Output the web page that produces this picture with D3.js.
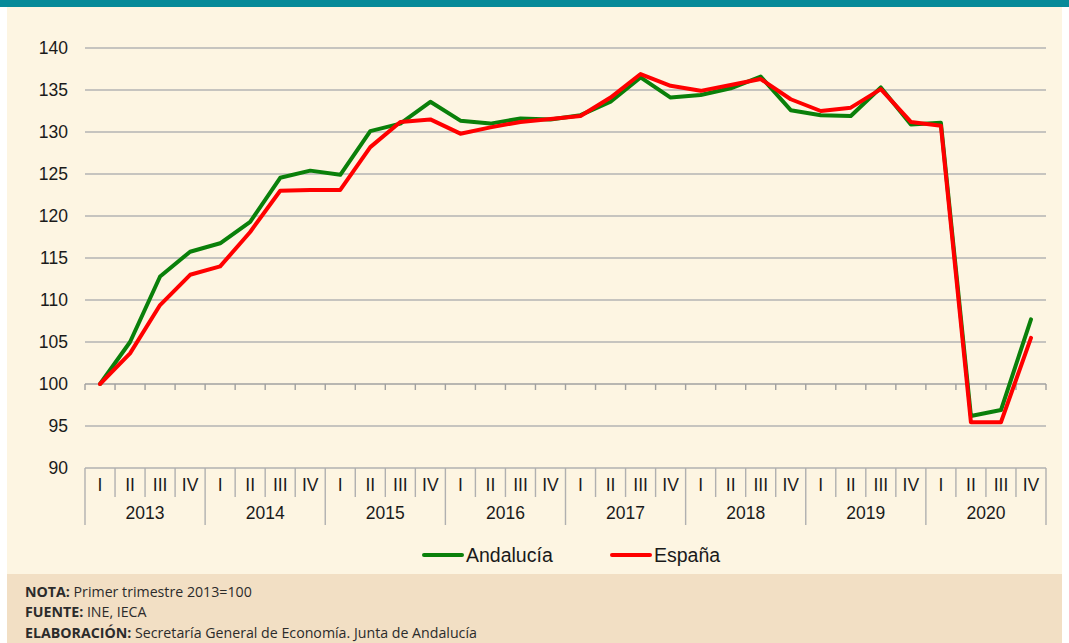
<!DOCTYPE html>
<html><head><meta charset="utf-8">
<script src="https://cdn.jsdelivr.net/npm/d3@7"></script>
<style>body{margin:0;background:#fff}svg{display:block}</style>
</head><body>
<svg id="c" width="1069" height="643"></svg>
<script>
const years = ["2013","2014","2015","2016","2017","2018","2019","2020"];
const quarters = ["I","II","III","IV"];
const andalucia = [100,105.0,112.8,115.75,116.75,119.3,124.55,125.4,124.9,130.1,131.0,133.6,131.35,131.0,131.6,131.5,132.0,133.6,136.5,134.1,134.4,135.2,136.6,132.6,132.0,131.9,135.3,130.9,131.1,96.2,96.9,107.7];
const espana = [100,103.65,109.4,113.0,114.0,118.1,123.0,123.1,123.1,128.2,131.2,131.5,129.8,130.55,131.2,131.55,131.9,134.1,136.9,135.5,134.9,135.6,136.3,133.9,132.5,132.9,135.1,131.2,130.75,95.45,95.45,105.5];
const yTicks = [90,95,100,105,110,115,120,125,130,135,140];
const seriesNames = ["Andalucía","España"];
const seriesColors = ["#0a800a","#ff0000"];
const notes = [["NOTA:"," Primer trimestre 2013=100"],["FUENTE:"," INE, IECA"],["ELABORACIÓN:"," Secretaría General de Economía. Junta de Andalucía"]];

const svg = d3.select("#c");
const W=1069,H=643;
svg.append("rect").attr("x",0).attr("y",0).attr("width",W).attr("height",H).attr("fill","#fff");
svg.append("rect").attr("x",7).attr("y",0).attr("width",W-14).attr("height",574).attr("fill","#fdf5e2");
svg.append("rect").attr("x",7).attr("y",574).attr("width",W-14).attr("height",H-574).attr("fill","#f2dfc4");
svg.append("rect").attr("x",0).attr("y",0).attr("width",W).attr("height",7).attr("fill","#078a99");

const cats = [];
years.forEach(y=>quarters.forEach(q=>cats.push(y+"-"+q)));
const x = d3.scaleBand().domain(cats).range([85,1046]).paddingInner(0).paddingOuter(0);
const y = d3.scaleLinear().domain([90,140]).range([468,48]);
const font = "'Liberation Sans', Arial, sans-serif";

const g = svg.append("g");
g.selectAll("line.grid").data(yTicks.filter(v=>v!==100 && v!==90)).join("line")
  .attr("x1",85).attr("x2",1046).attr("y1",d=>y(d)).attr("y2",d=>y(d))
  .attr("stroke","#b3b3b3").attr("stroke-width",1.4);
g.selectAll("text.yl").data(yTicks).join("text")
  .attr("x",68).attr("y",d=>y(d)).attr("dy","0.35em").attr("text-anchor","end")
  .attr("font-family",font).attr("font-size",17.5).attr("fill","#1a1a1a").text(d=>d);

const axG = svg.append("g").attr("transform",`translate(0,${y(100)})`);
axG.append("line").attr("x1",85).attr("x2",1046).attr("y1",0).attr("y2",0).attr("stroke","#a0a0a0").attr("stroke-width",1.6);
const bounds = cats.map(c=>x(c)).concat([1046]);
axG.selectAll("line.t").data(bounds).join("line")
  .attr("x1",d=>d).attr("x2",d=>d).attr("y1",0).attr("y2",6).attr("stroke","#a0a0a0").attr("stroke-width",1.4);

const tb = svg.append("g");
tb.append("line").attr("x1",85).attr("x2",1046).attr("y1",468).attr("y2",468).attr("stroke","#b0b0b0").attr("stroke-width",1.4);
tb.selectAll("line.q").data(bounds).join("line")
  .attr("x1",d=>d).attr("x2",d=>d).attr("y1",468)
  .attr("y2",(d,i)=> i%4===0 ? 525 : 497)
  .attr("stroke","#b0b0b0").attr("stroke-width",1.4);
tb.selectAll("text.q").data(cats).join("text")
  .attr("x",d=>x(d)+x.bandwidth()/2).attr("y",485).attr("dy","0.35em").attr("text-anchor","middle")
  .attr("font-family",font).attr("font-size",17.5).attr("fill","#1a1a1a").text(d=>d.split("-")[1]);
tb.selectAll("text.yr").data(years).join("text")
  .attr("x",d=>(x(d+"-I")+x(d+"-IV")+x.bandwidth())/2).attr("y",513).attr("dy","0.35em").attr("text-anchor","middle")
  .attr("font-family",font).attr("font-size",17.5).attr("fill","#1a1a1a").text(d=>d);

const line = d3.line().x((d,i)=>x(cats[i])+x.bandwidth()/2).y(d=>y(d));
[andalucia,espana].forEach((s,k)=>{
  svg.append("path").datum(s).attr("d",line).attr("fill","none")
    .attr("stroke",seriesColors[k]).attr("stroke-width",4).attr("stroke-linejoin","round").attr("stroke-linecap","round");
});

const lg = svg.append("g");
const lx = [424,612];
seriesNames.forEach((n,k)=>{
  lg.append("line").attr("x1",lx[k]).attr("x2",lx[k]+38).attr("y1",555).attr("y2",555)
    .attr("stroke",seriesColors[k]).attr("stroke-width",4).attr("stroke-linecap","round");
  lg.append("text").attr("x",lx[k]+42).attr("y",555).attr("dy","0.35em")
    .attr("font-family",font).attr("font-size",19.5).attr("fill","#1a1a1a").text(n);
});

const nf = "'Open Sans', sans-serif";
notes.forEach((n,i)=>{
  const t = svg.append("text").attr("x",25).attr("y",597+i*20.3).attr("font-family",nf).attr("font-size",14.2).attr("fill","#2b2b2b");
  t.append("tspan").attr("font-weight","bold").text(n[0]);
  t.append("tspan").text(n[1]);
});
</script>
</body></html>
